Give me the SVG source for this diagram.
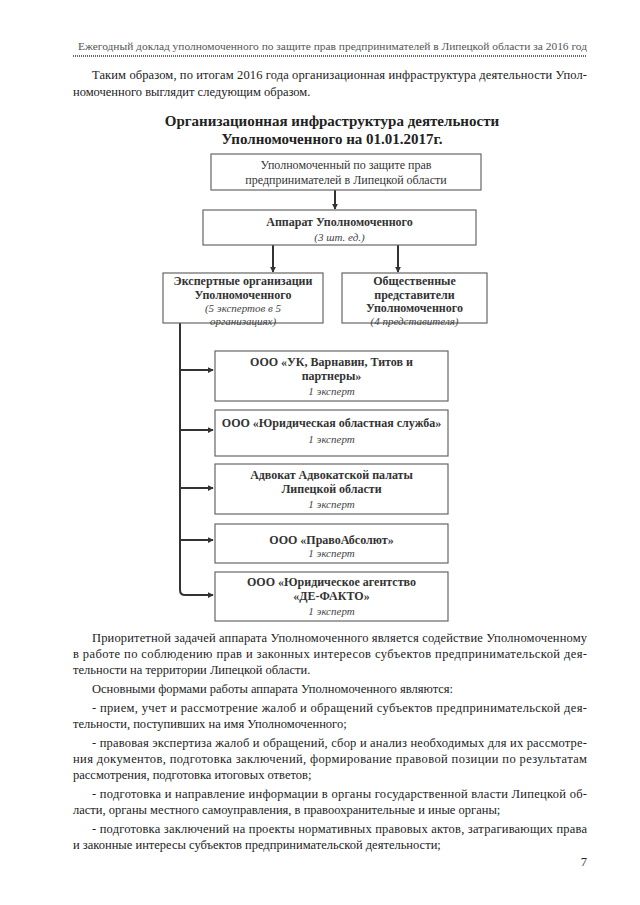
<svg xmlns="http://www.w3.org/2000/svg" width="640" height="905" viewBox="0 0 640 905" font-family="'Liberation Serif', 'Times New Roman', serif">
<defs>
<marker id="ah" viewBox="0 0 8 8" refX="7" refY="4" markerWidth="6" markerHeight="6" orient="auto" markerUnits="userSpaceOnUse">
<path d="M0,0 L8,4 L0,8 z" fill="#333"/>
</marker>
<style>
text{font-family:'Liberation Serif','Times New Roman',serif}
.body{font-size:12.5px;fill:#222}
.hdr{font-size:11px;fill:#555}
.ttl{font-size:15px;font-weight:bold;fill:#222;text-anchor:middle}
.box{fill:#fff;stroke:#666;stroke-width:1.2}
.bt{font-size:12px;font-weight:bold;fill:#333;text-anchor:middle}
.bn{font-size:12px;fill:#333;text-anchor:middle}
.bi{font-size:11px;font-style:italic;fill:#444;text-anchor:middle}
.con{fill:none;stroke:#333;stroke-width:2}
</style>
</defs>
<rect width="640" height="905" fill="#fff"/>

<text class="hdr" x="78" y="50" textLength="509" lengthAdjust="spacingAndGlyphs">Ежегодный доклад уполномоченного по защите прав предпринимателей в Липецкой области за 2016 год</text>
<line x1="73" y1="56" x2="587" y2="56" stroke="#666" stroke-width="2" stroke-dasharray="1 1"/>

<text class="body" x="92" y="79" textLength="495" lengthAdjust="spacing">Таким образом, по итогам 2016 года организационная инфраструктура деятельности Упол-</text>
<text class="body" x="73" y="96">номоченного выглядит следующим образом.</text>

<text class="ttl" x="332" y="126">Организационная инфраструктура деятельности</text>
<text class="ttl" x="332" y="144">Уполномоченного на 01.01.2017г.</text>

<g id="connectors">
<line class="con" x1="335" y1="190" x2="335" y2="209" marker-end="url(#ah)"/>
<line class="con" x1="273" y1="245" x2="273" y2="272" marker-end="url(#ah)"/>
<line class="con" x1="398" y1="245" x2="398" y2="272" marker-end="url(#ah)"/>
<path class="con" d="M180,323 V590 Q180,595 185,595 H213" marker-end="url(#ah)"/>
<line class="con" x1="180" y1="370" x2="213" y2="370" marker-end="url(#ah)"/>
<line class="con" x1="180" y1="430" x2="213" y2="430" marker-end="url(#ah)"/>
<line class="con" x1="180" y1="488" x2="213" y2="488" marker-end="url(#ah)"/>
<line class="con" x1="180" y1="540" x2="213" y2="540" marker-end="url(#ah)"/>
</g>

<g id="ombudsman">
<rect class="box" x="211" y="154" width="270" height="36"/>
<text class="bn" x="346" y="169">Уполномоченный по защите прав</text>
<text class="bn" x="346" y="184">предпринимателей в Липецкой области</text>
</g>

<g id="apparatus">
<rect class="box" x="203" y="210" width="273" height="35"/>
<text class="bt" x="339.5" y="226">Аппарат Уполномоченного</text>
<text class="bi" x="339.5" y="241">(3 шт. ед.)</text>
</g>

<g id="experts">
<rect class="box" x="163" y="273" width="160" height="50"/>
<text class="bt" x="243" y="285">Экспертные организации</text>
<text class="bt" x="243" y="298.5">Уполномоченного</text>
<text class="bi" x="243" y="312">(5 экспертов в 5</text>
<text class="bi" x="243" y="325">организациях)</text>
</g>

<g id="representatives">
<rect class="box" x="342" y="273" width="145" height="50"/>
<text class="bt" x="414.5" y="285">Общественные</text>
<text class="bt" x="414.5" y="298.5">представители</text>
<text class="bt" x="414.5" y="312">Уполномоченного</text>
<text class="bi" x="414.5" y="325">(4 представителя)</text>
</g>

<g id="org1">
<rect class="box" x="215" y="351" width="233" height="50"/>
<text class="bt" x="331.5" y="366">ООО «УК, Варнавин, Титов и</text>
<text class="bt" x="331.5" y="380">партнеры»</text>
<text class="bi" x="331.5" y="395">1 эксперт</text>
</g>

<g id="org2">
<rect class="box" x="215" y="410" width="233" height="46"/>
<text class="bt" x="331.5" y="427">ООО «Юридическая областная служба»</text>
<text class="bi" x="331.5" y="443">1 эксперт</text>
</g>

<g id="org3">
<rect class="box" x="215" y="464" width="233" height="50"/>
<text class="bt" x="331.5" y="479">Адвокат Адвокатской палаты</text>
<text class="bt" x="331.5" y="493">Липецкой области</text>
<text class="bi" x="331.5" y="508">1 эксперт</text>
</g>

<g id="org4">
<rect class="box" x="215" y="524" width="233" height="39"/>
<text class="bt" x="331.5" y="544">ООО «ПравоАбсолют»</text>
<text class="bi" x="331.5" y="557">1 эксперт</text>
</g>

<g id="org5">
<rect class="box" x="215" y="572" width="233" height="49"/>
<text class="bt" x="331.5" y="586">ООО «Юридическое агентство</text>
<text class="bt" x="331.5" y="600">«ДЕ-ФАКТО»</text>
<text class="bi" x="331.5" y="615">1 эксперт</text>
</g>

<text class="body" x="92" y="642" textLength="495" lengthAdjust="spacing">Приоритетной задачей аппарата Уполномоченного является содействие Уполномоченному</text>
<text class="body" x="73" y="658" textLength="514" lengthAdjust="spacing">в работе по соблюдению прав и законных интересов субъектов предпринимательской дея-</text>
<text class="body" x="73" y="674">тельности на территории Липецкой области.</text>
<text class="body" x="92" y="693">Основными формами работы аппарата Уполномоченного являются:</text>
<text class="body" x="92" y="712" textLength="495" lengthAdjust="spacing">- прием, учет и рассмотрение жалоб и обращений субъектов предпринимательской дея-</text>
<text class="body" x="73" y="728">тельности, поступивших на имя Уполномоченного;</text>
<text class="body" x="92" y="747" textLength="495" lengthAdjust="spacing">- правовая экспертиза жалоб и обращений, сбор и анализ необходимых для их рассмотре-</text>
<text class="body" x="73" y="763" textLength="514" lengthAdjust="spacing">ния документов, подготовка заключений, формирование правовой позиции по результатам</text>
<text class="body" x="73" y="779">рассмотрения, подготовка итоговых ответов;</text>
<text class="body" x="92" y="798" textLength="495" lengthAdjust="spacing">- подготовка и направление информации в органы государственной власти Липецкой об-</text>
<text class="body" x="73" y="814">ласти, органы местного самоуправления, в правоохранительные и иные органы;</text>
<text class="body" x="92" y="833" textLength="495" lengthAdjust="spacing">- подготовка заключений на проекты нормативных правовых актов, затрагивающих права</text>
<text class="body" x="73" y="849">и законные интересы субъектов предпринимательской деятельности;</text>
<text class="body" x="587" y="866" text-anchor="end">7</text>
</svg>
